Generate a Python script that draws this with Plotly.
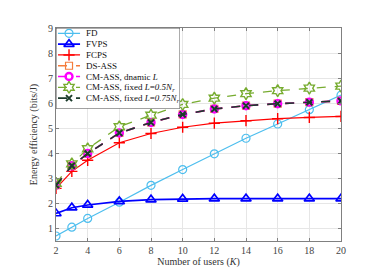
import plotly.graph_objects as go

K = [2, 3, 4, 6, 8, 10, 12, 14, 16, 18, 20]
fd = [0.7, 1.05, 1.4, 2.05, 2.72, 3.35, 3.98, 4.6, 5.17, 5.74, 6.32]
fvps = [1.6, 1.83, 1.94, 2.08, 2.15, 2.18, 2.19, 2.19, 2.19, 2.19, 2.19]
fcps = [2.6, 3.28, 3.72, 4.42, 4.79, 5.04, 5.2, 5.3, 5.38, 5.43, 5.47]
ds_ass = [2.73, 3.5, 3.99, 4.81, 5.23, 5.55, 5.77, 5.9, 5.98, 6.04, 6.09]
cm_dyn = [2.73, 3.5, 3.99, 4.81, 5.23, 5.55, 5.77, 5.9, 5.98, 6.04, 6.09]
cm_05 = [2.8, 3.58, 4.18, 5.06, 5.52, 5.95, 6.2, 6.38, 6.5, 6.6, 6.68]
cm_075 = [2.73, 3.5, 3.99, 4.81, 5.23, 5.55, 5.77, 5.9, 5.98, 6.04, 6.09]

names = ["FD", "FVPS", "FCPS", "DS-ASS", "CM-ASS, dnamic <i>L</i>",
         "CM-ASS, fixed <i>L</i>=<i>0.5N<sub>r</sub></i>",
         "CM-ASS, fixed <i>L</i>=<i>0.75N<sub>r</sub></i>"]
series = [fd, fvps, fcps, ds_ass, cm_dyn, cm_05, cm_075]

# (color, dash, line width, symbol, marker size, marker line width)
styles = [
    ("#4DBEEE", "solid", 1.2, "circle-open", 8, 1.2),
    ("#0000FF", "solid", 1.6, "triangle-up-open", 9, 1.6),
    ("#FF0000", "solid", 1.2, "cross-thin-open", 8, 1.4),
    ("#F47B3B", "dash", 1.6, "square-open", 7, 1.2),
    ("#FF00FF", "dash", 1.6, "circle-open", 7, 2.4),
    ("#77AC30", "dash", 1.3, "hexagram-open", 9, 1.4),
    ("#1B3B2B", "dash", 1.6, "x-thin-open", 6, 2.0),
]

fig = go.Figure()
for name, y, (c, dash, lw, sym, ms, mlw) in zip(names, series, styles):
    fig.add_trace(go.Scatter(
        x=K, y=y, name=name, mode="lines+markers", showlegend=False,
        line=dict(color=c, dash=dash, width=lw),
        marker=dict(symbol=sym, size=ms, color=c, line=dict(color=c, width=mlw)),
    ))

# ---- custom compact legend (MATLAB-style box) on an overlay subplot ----
box_h = 83.0
row0, row_step = 5.5, 11.1
fig.add_trace(go.Scatter(
    x=[0, 1, 1, 0, 0], y=[0, 0, 1, 1, 0], xaxis="x2", yaxis="y2",
    mode="lines", fill="toself", fillcolor="white",
    line=dict(color="#333333", width=0.8), hoverinfo="skip", showlegend=False))
for i, (name, (c, dash, lw, sym, ms, mlw)) in enumerate(zip(names, styles)):
    yc = 1 - (row0 + row_step * i) / box_h
    fig.add_trace(go.Scatter(
        x=[0.016, 0.194], y=[yc, yc], xaxis="x2", yaxis="y2", mode="lines",
        line=dict(color=c, dash=dash, width=lw), hoverinfo="skip", showlegend=False))
    fig.add_trace(go.Scatter(
        x=[0.105], y=[yc], xaxis="x2", yaxis="y2", mode="markers",
        marker=dict(symbol=sym, size=ms, color=c, line=dict(color=c, width=mlw)),
        hoverinfo="skip", showlegend=False))
    fig.add_annotation(x=0.226, y=yc, xref="x2", yref="y2", text=name,
                       showarrow=False, xanchor="left", yanchor="middle",
                       font=dict(family="Liberation Serif", size=9, color="#111111"))

axis_common = dict(
    showgrid=True, gridcolor="#E6E6E6", gridwidth=1,
    showline=True, linecolor="#808080", linewidth=1, mirror="ticks",
    ticks="inside", ticklen=3, tickcolor="#808080",
    tickfont=dict(family="Liberation Serif", size=10, color="#444444"),
    zeroline=False,
)
fig.update_layout(
    xaxis=dict(range=[2, 20], tickvals=[2, 4, 6, 8, 10, 12, 14, 16, 18, 20],
               title=dict(text="Number of users (<i>K</i>)", standoff=2,
                          font=dict(family="Liberation Serif", size=10, color="#333333")),
               **axis_common),
    yaxis=dict(range=[0.5, 9], tickvals=[1, 2, 3, 4, 5, 6, 7, 8, 9],
               title=dict(text="Energy efficiency (bits/J)", standoff=8,
                          font=dict(family="Liberation Serif", size=10, color="#333333")),
               **axis_common),
    xaxis2=dict(domain=[0, 0.435], range=[0, 1], visible=False, anchor="y2",
                fixedrange=True),
    yaxis2=dict(domain=[0.621, 1], range=[0, 1], visible=False, anchor="x2",
                fixedrange=True),
    width=368, height=269,
    margin=dict(l=48, r=35, t=20, b=30),
    paper_bgcolor="white", plot_bgcolor="rgba(0,0,0,0)",
    showlegend=False,
)
fig.write_html("out.html")
